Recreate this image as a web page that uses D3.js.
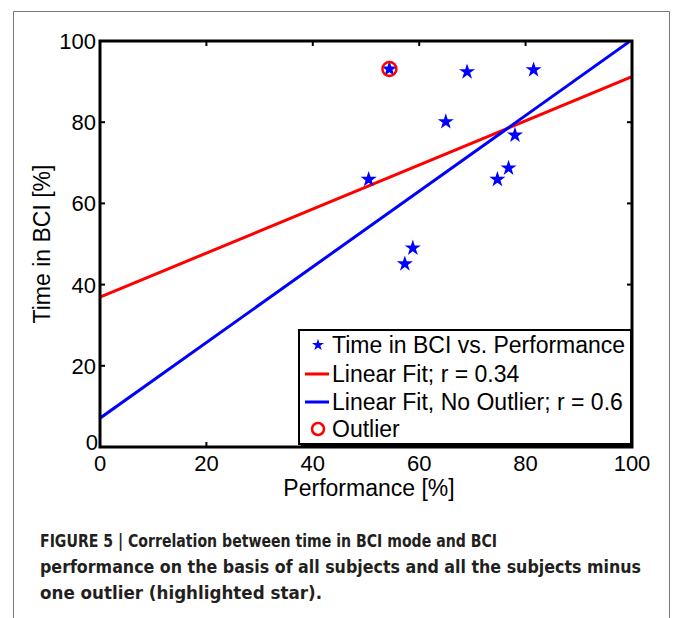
<!DOCTYPE html>
<html>
<head>
<meta charset="utf-8">
<script src="https://cdn.jsdelivr.net/npm/d3@7"></script>
<style>
  body { margin: 0; background: #fff; }
  svg text { font-family: "Liberation Sans", Arial, sans-serif; }
</style>
</head>
<body>
<div id="chart"></div>
<script>
// data
var perf = [54.4, 69.0, 81.5, 65.0, 78.0, 76.8, 74.7, 50.5, 58.8, 57.3];
var timeBCI = [93.1, 92.4, 92.9, 80.1, 76.8, 68.7, 65.9, 65.9, 49.0, 45.1];
var outlierIdx = 0;
var fitX = [0, 100];
var fitAll = [36.9, 91.2];        // Linear Fit; r = 0.34
var fitNoOutlier = [7.1, 100.3];  // Linear Fit, No Outlier; r = 0.6
var ticks = [0, 20, 40, 60, 80, 100];
var legendLabels = ["Time in BCI vs. Performance", "Linear Fit; r = 0.34",
                    "Linear Fit, No Outlier; r = 0.6", "Outlier"];
var caption = ["FIGURE 5 | Correlation between time in BCI mode and BCI",
               "performance on the basis of all subjects and all the subjects minus",
               "one outlier (highlighted star)."];

var W = 673, H = 618;
var mLeft = 100, mRight = 632, mTop = 41, mBottom = 447;
var captionWidths = [457, 601, 282]; // line lengths in the printed caption

var svg = d3.select("#chart").append("svg")
    .attr("width", W).attr("height", H);

// figure frame
svg.append("path")
    .attr("d", "M13.5," + H + "V11.5H669.5V" + H)
    .attr("fill", "none").attr("stroke", "#777").attr("stroke-width", 1);

var x = d3.scaleLinear().domain([0, 100]).range([mLeft, mRight]);
var y = d3.scaleLinear().domain([0, 100]).range([mBottom, mTop]);

// fit lines (clipped to axes)
svg.append("clipPath").attr("id", "clip")
  .append("rect").attr("x", mLeft).attr("y", mTop)
  .attr("width", mRight - mLeft).attr("height", mBottom - mTop);

var line = d3.line().x(d => x(d[0])).y(d => y(d[1]));
var g = svg.append("g").attr("clip-path", "url(#clip)");
g.append("path").datum(fitX.map((v, i) => [v, fitAll[i]]))
    .attr("d", line).attr("stroke", "#f00").attr("stroke-width", 3).attr("fill", "none");
g.append("path").datum(fitX.map((v, i) => [v, fitNoOutlier[i]]))
    .attr("d", line).attr("stroke", "#00f").attr("stroke-width", 3).attr("fill", "none");

// stars
var star = d3.symbol().type(d3.symbolStar).size(80);
svg.append("g").selectAll("path.pt")
    .data(perf.map((p, i) => [p, timeBCI[i]]))
  .join("path")
    .attr("class", "pt")
    .attr("d", star)
    .attr("transform", d => "translate(" + x(d[0]) + "," + y(d[1]) + ")")
    .attr("fill", "#00f");

svg.append("circle")
    .attr("cx", x(perf[outlierIdx])).attr("cy", y(timeBCI[outlierIdx]))
    .attr("r", 7).attr("fill", "none").attr("stroke", "#f00").attr("stroke-width", 2.5);

// axes (box with inward ticks on all sides)
var tickLen = 5;
var ax = svg.append("g").attr("stroke", "#000").attr("stroke-width", 2);
ticks.forEach(function (t) {
  ax.append("line").attr("x1", x(t)).attr("x2", x(t)).attr("y1", mBottom).attr("y2", mBottom - tickLen);
  ax.append("line").attr("x1", x(t)).attr("x2", x(t)).attr("y1", mTop).attr("y2", mTop + tickLen);
  ax.append("line").attr("y1", y(t)).attr("y2", y(t)).attr("x1", mLeft).attr("x2", mLeft + tickLen);
  ax.append("line").attr("y1", y(t)).attr("y2", y(t)).attr("x1", mRight).attr("x2", mRight - tickLen);
});
svg.append("rect")
    .attr("x", mLeft).attr("y", mTop).attr("width", mRight - mLeft).attr("height", mBottom - mTop)
    .attr("fill", "none").attr("stroke", "#000").attr("stroke-width", 3);

svg.append("g").selectAll("text.xt").data(ticks).join("text")
    .attr("x", d => x(d)).attr("y", mBottom + 24)
    .attr("text-anchor", "middle").style("font-size", "22px").text(d => d);
svg.append("g").selectAll("text.yt").data(ticks).join("text")
    .attr("x", d => d === 0 ? mLeft - 2 : mLeft - 4)
    .attr("y", d => d === 0 ? y(d) + 3 : y(d) + 8)
    .attr("text-anchor", "end").style("font-size", "22px").text(d => d);

svg.append("text").attr("x", 369).attr("y", 496)
    .attr("text-anchor", "middle").style("font-size", "23px").text("Performance [%]");
svg.append("text").attr("transform", "translate(50," + ((mTop + mBottom) / 2) + ") rotate(-90)")
    .attr("text-anchor", "middle").style("font-size", "23px").text("Time in BCI [%]");

// legend
var lg = svg.append("g").attr("transform", "translate(299,330)");
lg.append("rect").attr("x", 2).attr("y", 2).attr("width", 332).attr("height", 114)
    .attr("fill", "#000");
lg.append("rect").attr("width", 332).attr("height", 114)
    .attr("fill", "#fff").attr("stroke", "#000").attr("stroke-width", 2);
var rowY = [15, 44, 72, 99];
legendLabels.forEach(function (lab, i) {
  var ry = rowY[i];
  if (i === 0) {
    lg.append("path").attr("d", d3.symbol().type(d3.symbolStar).size(45))
      .attr("transform", "translate(19," + ry + ")").attr("fill", "#00f");
  } else if (i === 3) {
    lg.append("circle").attr("cx", 19).attr("cy", ry).attr("r", 6)
      .attr("fill", "none").attr("stroke", "#f00").attr("stroke-width", 2.5);
  } else {
    lg.append("line").attr("x1", 6).attr("x2", 30).attr("y1", ry).attr("y2", ry)
      .attr("stroke", i === 1 ? "#f00" : "#00f").attr("stroke-width", 3);
  }
  lg.append("text").attr("x", 33).attr("y", ry + 8)
    .style("font-size", "23px").text(lab);
});

// caption (condensed bold, fitted to the printed line lengths)
svg.append("g").selectAll("text.cap").data(caption).join("text")
    .attr("x", 40).attr("y", (d, i) => 547 + i * 26)
    .attr("textLength", (d, i) => captionWidths[i])
    .attr("lengthAdjust", "spacingAndGlyphs")
    .style("font-family", "'DejaVu Sans Condensed', 'DejaVu Sans', sans-serif")
    .style("font-weight", "bold").style("font-size", "18px").attr("fill", "#231f20")
    .text(d => d);
</script>
</body>
</html>
